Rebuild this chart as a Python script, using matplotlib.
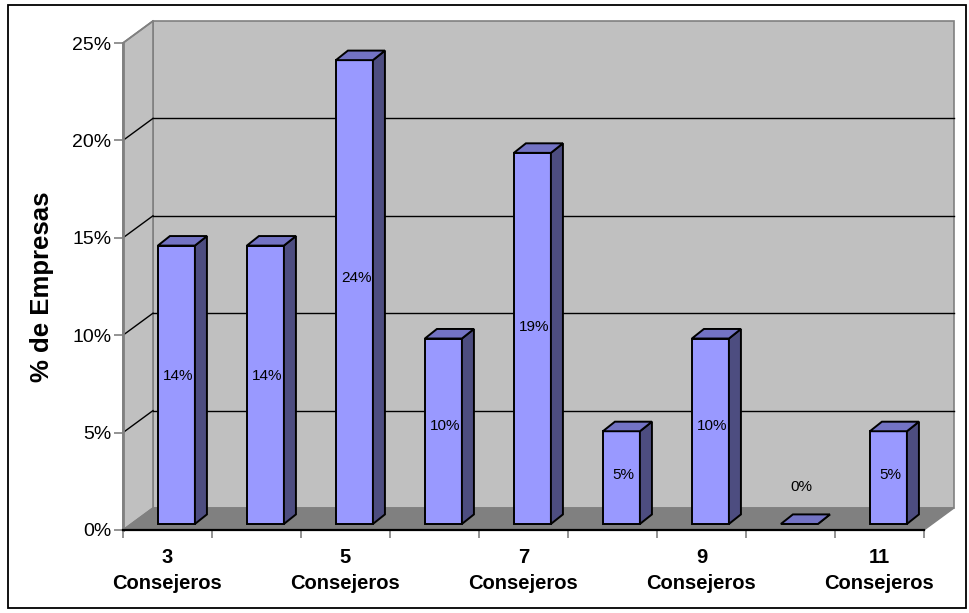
import numpy as np
import matplotlib
matplotlib.use("Agg")
from matplotlib import pyplot as plt
from matplotlib.patches import Polygon, Rectangle

plt.rcParams['font.family'] = ['Liberation Sans', 'DejaVu Sans']

# numero de consejeros y % de empresas
consejeros = ['3', '4', '5', '6', '7', '8', '9', '10', '11']
pct_empresas = [14.29, 14.29, 23.81, 9.52, 19.05, 4.76, 9.52, 0.0, 4.76]
yticks = [0, 5, 10, 15, 20, 25]
xlabel_pos = [0, 2, 4, 6, 8]

vals = np.array(pct_empresas)
n = len(vals)

# profundidad de la caja 3d, en unidades de datos (categoria, %)
DX, DY = 0.337, 1.13
# posicion de la cara frontal de cada barra y su profundidad
bfx, bfy = 0.10, 0.31
sdx, sdy = 0.135, 0.49
bw = 0.416

fig = plt.figure(figsize=(9.7, 6.13), dpi=100)
fig.patches.append(Rectangle((8/970, 5/613), 958/970, 603/613, transform=fig.transFigure,
                             fill=False, edgecolor='black', linewidth=1.3))

ax = fig.add_axes([123/970, 83/613, 801/970, 487/613])
ax.set_xlim(0, n)
ax.set_ylim(0, 25)
ax.patch.set_visible(False)
ytop = yticks[-1]

# paredes y suelo
back = Polygon([(DX, DY), (n+DX, DY), (n+DX, ytop+DY), (DX, ytop+DY)], closed=True,
               facecolor='#C0C0C0', edgecolor='#808080', lw=1.2, zorder=0.5, clip_on=False)
side = Polygon([(0, 0), (DX, DY), (DX, ytop+DY), (0, ytop)], closed=True,
               facecolor='#C0C0C0', edgecolor='#808080', lw=1.2, zorder=0.5, clip_on=False)
floor = Polygon([(0, 0), (n, 0), (n+DX, DY), (DX, DY)], closed=True,
                facecolor='#808080', edgecolor='#808080', lw=1, zorder=0.6, clip_on=False)
for p in (back, side, floor):
    ax.add_patch(p)

# lineas de division
for t in yticks[1:-1]:
    ax.plot([DX, n+DX], [t+DY, t+DY], color='black', lw=1, zorder=0.8, clip_on=False)
    ax.plot([0, DX], [t, t+DY], color='black', lw=1, zorder=0.8, clip_on=False)
ax.plot([0, DX], [ytop, ytop+DY], color='#808080', lw=1.2, zorder=0.8, clip_on=False)

# barras
xc = np.arange(n) + 0.5 + bfx
ax.bar(xc, vals, width=bw, bottom=bfy, color='#9999FF', edgecolor='black',
       linewidth=1.4, zorder=3, clip_on=False)
for x, v in zip(xc, vals):
    l, r = x - bw/2, x + bw/2
    top = v + bfy
    ax.add_patch(Polygon([(r, bfy), (r+sdx, bfy+sdy), (r+sdx, top+sdy), (r, top)], closed=True,
                         facecolor='#4D4D80', edgecolor='black', lw=1.4, zorder=3, clip_on=False))
    ax.add_patch(Polygon([(l, top), (r, top), (r+sdx, top+sdy), (l+sdx, top+sdy)], closed=True,
                         facecolor='#7373C4', edgecolor='black', lw=1.4, zorder=3, clip_on=False))
    ax.text(x + 0.02, bfy + max(v*0.53, 1.9), '%.0f%%' % v, ha='center', va='center',
            fontsize=11, color='black', zorder=4)

# ejes
for s in ('top', 'right'):
    ax.spines[s].set_visible(False)
ax.spines['left'].set_color('#808080')
ax.spines['left'].set_linewidth(2)
ax.spines['bottom'].set_color('black')
ax.spines['bottom'].set_linewidth(1.6)
ax.set_yticks(yticks)
ax.set_yticklabels(['%d%%' % t for t in yticks])
ax.tick_params(axis='y', direction='out', length=6.5, width=1.2, color='#808080',
               labelsize=14, pad=2)
ax.set_xticks(np.arange(n+1))
ax.set_xticklabels([])
ax.tick_params(axis='x', which='major', direction='out', length=6, width=1.2, color='#808080')
ax.set_xticks(np.array(xlabel_pos) + 0.5, minor=True)
ax.set_xticklabels(['%s\nConsejeros' % consejeros[i] for i in xlabel_pos], minor=True,
                   fontsize=14.5, fontweight='bold', linespacing=1.45)
ax.tick_params(axis='x', which='minor', length=0, pad=13)

fig.text(42/970, 1 - 287/613, '% de Empresas', rotation=90, ha='center', va='center',
         fontsize=18.5, fontweight='bold')

fig.savefig('out.png', dpi=100)
